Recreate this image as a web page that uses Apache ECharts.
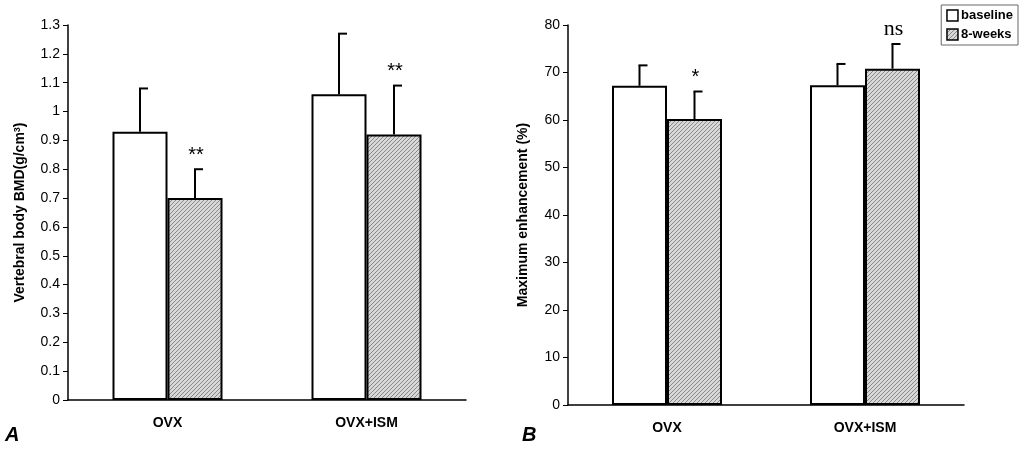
<!DOCTYPE html>
<html><head><meta charset="utf-8">
<script src="https://cdn.jsdelivr.net/npm/echarts@6/dist/echarts.min.js"></script>
<style>body{margin:0;background:#fff}#main{width:1024px;height:450px}</style>
</head><body><div id="main"></div>
<script>
var categories = ['OVX', 'OVX+ISM'];
// A: BMD
var bmdBase = [0.93, 1.06];
var bmdBaseErr = [1.08, 1.27];
var bmdWeek = [0.70, 0.92];
var bmdWeekErr = [0.80, 1.09];
var bmdMarks = ['**', '**'];
// B: maximum enhancement
var enhBase = [67.2, 67.3];
var enhBaseErr = [71.5, 71.8];
var enhWeek = [60.2, 70.8];
var enhWeekErr = [66.0, 76.0];
var enhMarks = ['*', 'ns'];

var myChart = echarts.init(document.getElementById('main'));

// hatch pattern for 8-weeks
var cv = document.createElement('canvas');
cv.width = 4; cv.height = 4;
var cx = cv.getContext('2d');
cx.fillStyle = '#d8d8d8'; cx.fillRect(0, 0, 4, 4);
cx.strokeStyle = '#888'; cx.lineWidth = 1;
cx.beginPath(); cx.moveTo(0, 4); cx.lineTo(4, 0); cx.moveTo(-1, 1); cx.lineTo(1, -1); cx.moveTo(3, 5); cx.lineTo(5, 3); cx.stroke();
var hatch = {image: cv, repeat: 'repeat'};

function errSeries(xi, yi, tops, offset, marks, markFont){
	return {
		type: 'custom', xAxisIndex: xi, yAxisIndex: yi, z: 5,
		data: tops.map(function(t, i){ return [i, t]; }),
		renderItem: function(params, api){
			var i = api.value(0);
			var top = api.coord([i, api.value(1)]);
			var base = api.coord([i, (yi == 0 ? (offset < 0 ? bmdBase : bmdWeek) : (offset < 0 ? enhBase : enhWeek))[i]]);
			var x = top[0] + offset;
			var kids = [
				{type: 'line', shape: {x1: x, y1: base[1], x2: x, y2: top[1]}, style: {stroke: '#000', lineWidth: 2}},
				{type: 'line', shape: {x1: x - 1, y1: top[1], x2: x + 8, y2: top[1]}, style: {stroke: '#000', lineWidth: 2}}
			];
			if(marks && marks[i]){
				kids.push({type: 'text', x: x + 1, y: top[1] - 4,
					style: {text: marks[i], fill: '#000', font: markFont(marks[i]), align: 'center', verticalAlign: 'bottom'}});
			}
			return {type: 'group', children: kids};
		}
	};
}

var axisCommon = {
	axisLine: {show: true, lineStyle: {color: '#000', width: 1.5}},
	axisTick: {show: true, inside: false, length: 5, lineStyle: {color: '#000'}},
	axisLabel: {color: '#000', fontSize: 14, fontFamily: 'Liberation Sans'},
	splitLine: {show: false}
};

option = {
	animation: false,
	grid: [
		{left: 68, top: 25, right: 558, bottom: 50},
		{left: 568, top: 25, right: 60, bottom: 45}
	],
	legend: {
		right: 6, top: 5, orient: 'vertical', itemWidth: 11, itemHeight: 11, itemGap: 6,
		padding: [4, 5], borderColor: '#666', borderWidth: 1, backgroundColor: '#fff',
		textStyle: {fontSize: 13, fontWeight: 'bold', fontFamily: 'Liberation Sans', color: '#000', padding: [0, 0, 0, -2]},
		data: [
			{name: 'baseline', icon: 'rect', itemStyle: {color: '#fff', borderColor: '#000', borderWidth: 1.5}},
			{name: '8-weeks', icon: 'rect', itemStyle: {borderColor: '#000', borderWidth: 1.5}}
		]
	},
	xAxis: [0, 1].map(function(g){
		return {type: 'category', gridIndex: g, data: categories,
			axisLine: {show: true, lineStyle: {color: '#000', width: 1.5}},
			axisTick: {show: false},
			axisLabel: {color: '#000', fontSize: 14, fontWeight: 'bold', fontFamily: 'Liberation Sans', margin: 16}};
	}),
	yAxis: [
		Object.assign({}, axisCommon, {type: 'value', gridIndex: 0, min: 0, max: 1.3, interval: 0.1,
			name: 'Vertebral body BMD(g/cm{s|3})', nameLocation: 'middle', nameGap: 40, nameRotate: 90,
			nameTextStyle: {fontSize: 14, fontWeight: 'bold', color: '#000', fontFamily: 'Liberation Sans',
				rich: {s: {fontSize: 9, fontWeight: 'bold', verticalAlign: 'top', padding: [0, 0, 6, 0]}}},
			axisLabel: Object.assign({}, axisCommon.axisLabel, {formatter: function(v){ return String(Math.round(v * 10) / 10); }})}),
		Object.assign({}, axisCommon, {type: 'value', gridIndex: 1, min: 0, max: 80, interval: 10,
			name: 'Maximum enhancement (%)', nameLocation: 'middle', nameGap: 38, nameRotate: 90,
			nameTextStyle: {fontSize: 14, fontWeight: 'bold', color: '#000', fontFamily: 'Liberation Sans'}})
	],
	graphic: [
		{type: 'text', left: 5, top: 425, style: {text: 'A', font: 'italic bold 20px Liberation Sans', fill: '#000'}},
		{type: 'text', left: 522, top: 425, style: {text: 'B', font: 'italic bold 20px Liberation Sans', fill: '#000'}}
	],
	series: [
		{name: 'baseline', type: 'bar', xAxisIndex: 0, yAxisIndex: 0, data: bmdBase, barWidth: 55, barGap: '0%',
			itemStyle: {color: '#fff', borderColor: '#000', borderWidth: 2}},
		{name: '8-weeks', type: 'bar', xAxisIndex: 0, yAxisIndex: 0, data: bmdWeek, barWidth: 55,
			itemStyle: {color: hatch, borderColor: '#000', borderWidth: 2}},
		{name: 'baseline', type: 'bar', xAxisIndex: 1, yAxisIndex: 1, data: enhBase, barWidth: 55, barGap: '0%',
			itemStyle: {color: '#fff', borderColor: '#000', borderWidth: 2}},
		{name: '8-weeks', type: 'bar', xAxisIndex: 1, yAxisIndex: 1, data: enhWeek, barWidth: 55,
			itemStyle: {color: hatch, borderColor: '#000', borderWidth: 2}},
		errSeries(0, 0, bmdBaseErr, -27.5, null),
		errSeries(0, 0, bmdWeekErr, 27.5, bmdMarks, function(){ return '20px Liberation Sans'; }),
		errSeries(1, 1, enhBaseErr, -27.5, null),
		errSeries(1, 1, enhWeekErr, 27.5, enhMarks, function(m){ return m == 'ns' ? '22px Liberation Serif' : '20px Liberation Sans'; })
	]
};
myChart.setOption(option);
</script>
</body></html>
